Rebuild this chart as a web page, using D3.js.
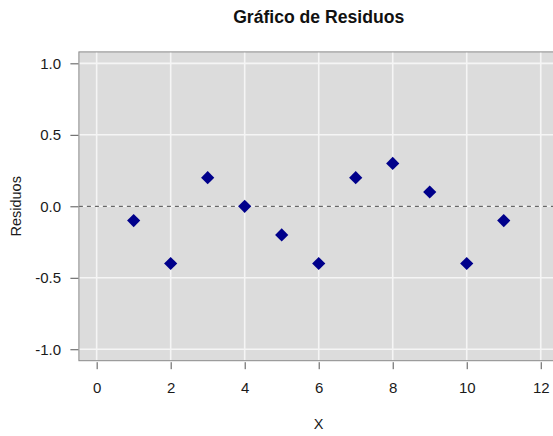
<!DOCTYPE html>
<html>
<head>
<meta charset="utf-8">
<script src="https://cdn.jsdelivr.net/npm/d3@7"></script>
<style>
  html, body { margin: 0; padding: 0; background: #ffffff; }
  svg { display: block; font-family: "Liberation Sans", Arial, sans-serif; }
</style>
</head>
<body>
<svg id="chart" width="553" height="436"></svg>
<script>
// Residuals by observation index
const xValues = [1, 2, 3, 4, 5, 6, 7, 8, 9, 10, 11];
const residuals = [-0.1, -0.4, 0.2, 0.0, -0.2, -0.4, 0.2, 0.3, 0.1, -0.4, -0.1];
const xTicks = [0, 2, 4, 6, 8, 10, 12];
const yTicks = [-1.0, -0.5, 0.0, 0.5, 1.0];

const svg = d3.select("#chart");

// Plot region with 4% padding around the data limits
const x = d3.scaleLinear().domain([-0.48, 12.48]).range([78.9, 558.5]);
const y = d3.scaleLinear().domain([-1.08, 1.08]).range([360.7, 51.9]);

const pLeft = x.range()[0], pRight = x.range()[1];
const pTop = y.range()[1], pBottom = y.range()[0];

svg.append("defs").append("clipPath").attr("id", "plotclip")
  .append("rect").attr("x", pLeft).attr("y", pTop)
  .attr("width", pRight - pLeft).attr("height", pBottom - pTop);

// Panel background
svg.append("rect")
  .attr("x", pLeft).attr("y", pTop)
  .attr("width", pRight - pLeft).attr("height", pBottom - pTop)
  .attr("fill", "#dcdcdc");

const panel = svg.append("g").attr("clip-path", "url(#plotclip)");

// White grid
panel.selectAll("line.vgrid").data(xTicks).enter().append("line")
  .attr("class", "vgrid")
  .attr("x1", d => x(d)).attr("x2", d => x(d))
  .attr("y1", pTop).attr("y2", pBottom)
  .attr("stroke", "#f5f5f5").attr("stroke-width", 1.6);
panel.selectAll("line.hgrid").data(yTicks).enter().append("line")
  .attr("class", "hgrid")
  .attr("x1", pLeft).attr("x2", pRight)
  .attr("y1", d => y(d)).attr("y2", d => y(d))
  .attr("stroke", "#f5f5f5").attr("stroke-width", 1.6);

// Zero reference line
panel.append("line")
  .attr("x1", pLeft).attr("x2", pRight)
  .attr("y1", y(0)).attr("y2", y(0))
  .attr("stroke", "#444444").attr("stroke-width", 1)
  .attr("stroke-dasharray", "4,4");

// Points as filled diamonds
panel.selectAll("path.pt").data(xValues.map((v, i) => [v, residuals[i]]))
  .enter().append("path")
  .attr("class", "pt")
  .attr("transform", d => `translate(${x(d[0])},${y(d[1])})`)
  .attr("d", "M0,-6.6L6.6,0L0,6.6L-6.6,0Z")
  .attr("fill", "#00008b");

// Panel border
svg.append("rect")
  .attr("x", pLeft).attr("y", pTop)
  .attr("width", pRight - pLeft).attr("height", pBottom - pTop)
  .attr("fill", "none").attr("stroke", "#8a8a8a").attr("stroke-width", 1);

// Axes (plain hyphen for negative numbers)
const fmtY = d => d3.format(".1f")(d).replace("\u2212", "-");
const xAxis = d3.axisBottom(x).tickValues(xTicks).tickFormat(d3.format("d"))
  .tickSize(7).tickPadding(13.6);
const gx = svg.append("g").attr("transform", `translate(0,${pBottom + 1.5})`).call(xAxis);
gx.select(".domain").remove();

const yAxis = d3.axisLeft(y).tickValues(yTicks).tickFormat(fmtY)
  .tickSize(8).tickPadding(9.4);
const gy = svg.append("g").attr("transform", `translate(${pLeft - 0.5},0)`).call(yAxis);
gy.select(".domain").remove();

[gx, gy].forEach(g => {
  g.selectAll(".tick line").attr("stroke", "#555555");
  g.selectAll(".tick text").attr("fill", "#1a1a1a")
    .style("font-size", "15px").style("font-family", "'Liberation Sans', Arial, sans-serif");
});

// Titles
svg.append("text")
  .attr("x", (pLeft + pRight) / 2).attr("y", 23)
  .attr("text-anchor", "middle")
  .style("font-size", "17.6px").style("font-weight", "bold")
  .attr("fill", "#111111")
  .text("Gráfico de Residuos");

svg.append("text")
  .attr("x", (pLeft + pRight) / 2).attr("y", 429)
  .attr("text-anchor", "middle")
  .style("font-size", "14.5px").attr("fill", "#1a1a1a")
  .text("X");

svg.append("text")
  .attr("transform", `translate(21,${(pTop + pBottom) / 2}) rotate(-90)`)
  .attr("text-anchor", "middle")
  .style("font-size", "14.5px").attr("fill", "#1a1a1a")
  .text("Residuos");
</script>
</body>
</html>
